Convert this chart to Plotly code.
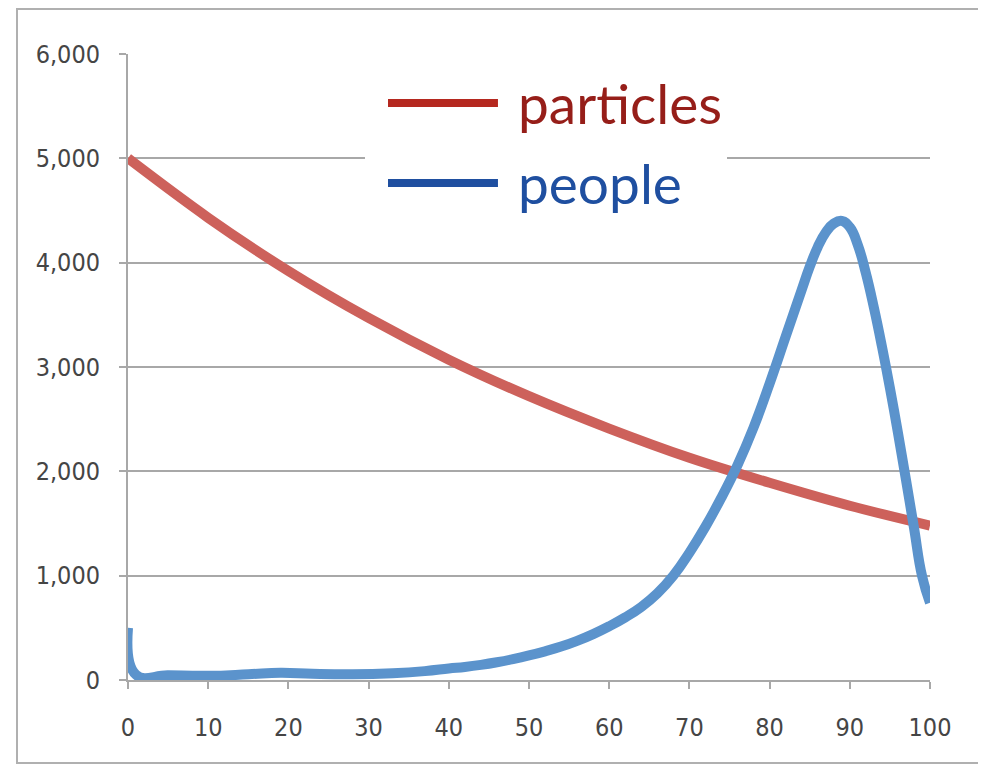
import plotly.graph_objects as go

# ---- data ----
particles_x = [0, 10, 20, 30, 40, 50, 60, 70, 80, 90, 100]
particles_y = [5000, 4430, 3920, 3470, 3070, 2720, 2410, 2130, 1890, 1670, 1480]

people_x = [0, 1, 5, 10, 15, 19, 23, 28, 33, 37, 40, 42, 44, 46, 48, 50, 52, 54, 56, 58, 60,
            62, 64, 66, 68, 70, 72, 74, 76, 78, 80, 82, 84, 85, 86, 87, 88, 89, 90, 91, 92, 93,
            94, 95, 96, 97, 98, 99, 100]
people_y = [500, 50, 45, 40, 55, 70, 60, 55, 65, 85, 110, 125, 145, 170, 200, 235, 275, 320,
            375, 440, 515, 600, 700, 830, 1000, 1220, 1470, 1750, 2060, 2420, 2840, 3290, 3740,
            3960, 4150, 4290, 4375, 4400, 4340, 4170, 3900, 3570, 3200, 2800, 2370, 1920, 1460,
            1000, 740]

x_ticks = [0, 10, 20, 30, 40, 50, 60, 70, 80, 90, 100]
y_ticks = [0, 1000, 2000, 3000, 4000, 5000, 6000]
y_tick_labels = ["0", "1,000", "2,000", "3,000", "4,000", "5,000", "6,000"]
legend_names = ["particles", "people"]

LINE_RED = "#CD615B"
LINE_BLUE = "#5B93CC"
LEG_RED_LINE = "#B5281F"
LEG_RED_TEXT = "#961E19"
LEG_BLUE = "#1F4FA0"
GRID = "#A8A8A8"
TICKFONT = dict(family="DejaVu Sans Condensed, Liberation Sans Narrow, sans-serif", size=25,
                color="#454545")

fig = go.Figure()
fig.add_trace(go.Scatter(x=particles_x, y=particles_y, mode="lines",
                         line=dict(color=LINE_RED, width=10, shape="spline", smoothing=1.0),
                         showlegend=False, name=legend_names[0]))
fig.add_trace(go.Scatter(x=people_x, y=people_y, mode="lines",
                         line=dict(color=LINE_BLUE, width=10, shape="spline", smoothing=1.3),
                         showlegend=False, name=legend_names[1]))

fig.update_xaxes(range=[0, 100], tickvals=x_ticks, ticks="outside", ticklen=7, tickwidth=2,
                 tickcolor=GRID, showline=True, linecolor=GRID, linewidth=2, showgrid=False,
                 zeroline=False, tickfont=TICKFONT, ticklabelstandoff=17)
fig.update_yaxes(range=[0, 6000], tickvals=y_ticks, ticktext=y_tick_labels, ticks="outside",
                 ticklen=7, tickwidth=2, tickcolor=GRID, showline=True, linecolor=GRID,
                 linewidth=2, showgrid=True, gridcolor=GRID, gridwidth=2, zeroline=False,
                 tickfont=TICKFONT, ticklabelstandoff=14)

shapes = [
    # outer frame
    dict(type="rect", xref="paper", yref="paper", x0=-0.1384, x1=1.0648, y0=-0.1326, y1=1.0719,
         line=dict(color="#B0B0B0", width=2), fillcolor="rgba(0,0,0,0)", layer="above"),
    # legend background
    dict(type="rect", xref="paper", yref="paper", x0=0.2955, x1=0.7469, y0=0.7188, y1=0.9968,
         line=dict(width=0), fillcolor="white", layer="above"),
    # legend samples
    dict(type="line", xref="paper", yref="paper", x0=0.3242, x1=0.4613, y0=0.9217, y1=0.9217,
         line=dict(color=LEG_RED_LINE, width=8), layer="above"),
    dict(type="line", xref="paper", yref="paper", x0=0.3242, x1=0.4613, y0=0.7939, y1=0.7939,
         line=dict(color=LEG_BLUE, width=8), layer="above"),
]
annotations = [
    dict(text=legend_names[0], xref="paper", yref="paper", x=0.4838, y=0.9217, xanchor="left",
         yanchor="middle", showarrow=False, font=dict(family="Lato, sans-serif", size=55, color=LEG_RED_TEXT)),
    dict(text=legend_names[1], xref="paper", yref="paper", x=0.4838, y=0.7939, xanchor="left",
         yanchor="middle", showarrow=False, font=dict(family="Lato, sans-serif", size=55, color=LEG_BLUE)),
]

# page body has an 8px margin, so the figure is sized/positioned to compensate
fig.update_layout(width=978, height=757, margin=dict(l=120, r=56, t=46, b=85),
                  paper_bgcolor="white", plot_bgcolor="white", shapes=shapes,
                  annotations=annotations, showlegend=False)

fig.write_html("out.html")
